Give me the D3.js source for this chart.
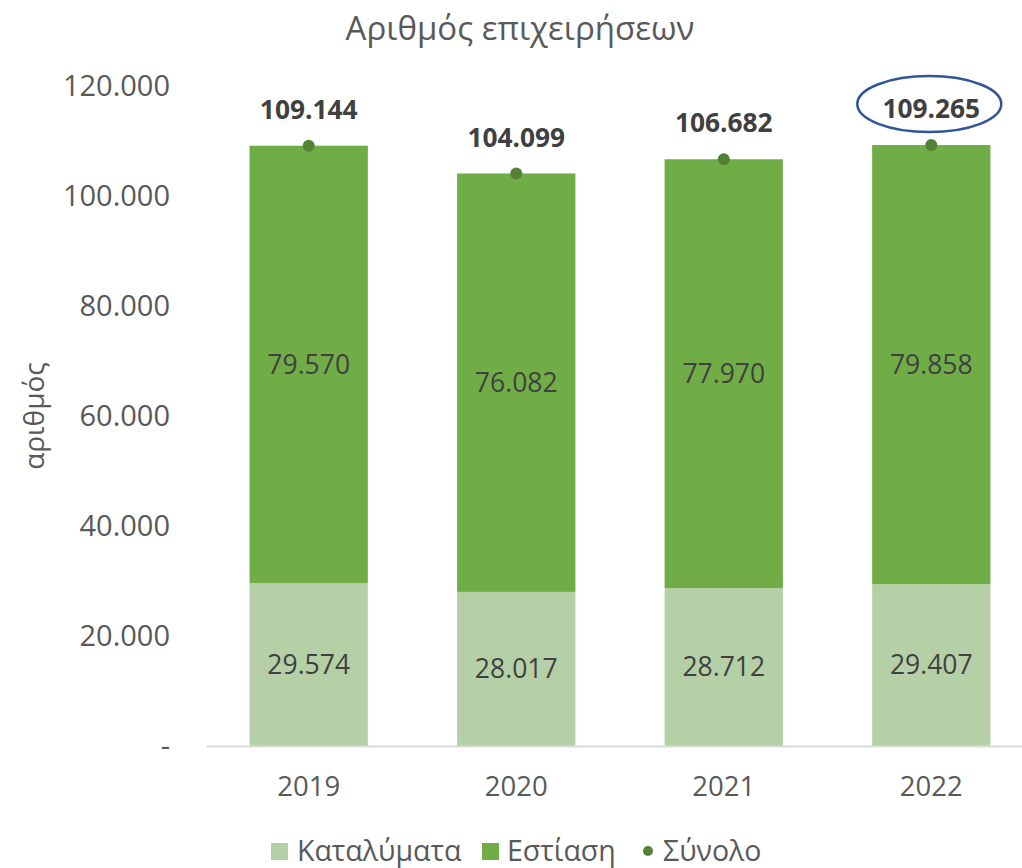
<!DOCTYPE html>
<html>
<head>
<meta charset="utf-8">
<script src="https://cdn.jsdelivr.net/npm/d3@7"></script>
<style>
    body { margin: 0; background: #fff; }
    text { font-family: "Open Sans", "Noto Sans", sans-serif; }
</style>
</head>
<body>
<div id="chart"></div>
<script>
const years = ["2019", "2020", "2021", "2022"];
const katalymata = [29574, 28017, 28712, 29407];
const estiasi = [79570, 76082, 77970, 79858];
const synolo = [109144, 104099, 106682, 109265];
const yTicks = [0, 20000, 40000, 60000, 80000, 100000, 120000];

const width = 1022, height = 868;
const margin = { top: 86, right: -12, bottom: 122, left: 206 };

const locale = d3.formatLocale({ decimal: ",", thousands: ".", grouping: [3], currency: ["", "€"] });
const fmt = locale.format(",d");

const svg = d3.select("#chart")
    .append("svg")
    .attr("width", width)
    .attr("height", height);

const x = d3.scaleBand()
    .domain(years)
    .range([margin.left, width - margin.right])
    .paddingInner(0.43)
    .paddingOuter(0.21);

const y = d3.scaleLinear()
    .domain([0, 120000])
    .range([height - margin.bottom, margin.top]);

// stacked data
const stackData = years.map((yr, i) => ({ year: yr, katalymata: katalymata[i], estiasi: estiasi[i] }));
const series = d3.stack().keys(["katalymata", "estiasi"])(stackData);
const colors = { katalymata: "#b5d0a7", estiasi: "#70ad47" };

// title
svg.append("text")
    .attr("x", 520)
    .attr("y", 40)
    .attr("text-anchor", "middle")
    .attr("font-size", 33)
    .attr("fill", "#595959")
    .text("Αριθμός επιχειρήσεων");

// y axis label
svg.append("text")
    .attr("transform", `translate(44,${(y(0) + y(120000)) / 2}) rotate(-90)`)
    .attr("text-anchor", "middle")
    .attr("font-size", 28)
    .attr("fill", "#595959")
    .text("αριθμός");

// y axis
const yAxis = svg.append("g")
    .attr("transform", `translate(170,0)`)
    .call(d3.axisLeft(y).tickValues(yTicks).tickSize(0).tickPadding(0)
        .tickFormat(d => d === 0 ? "-" : fmt(d)));
yAxis.select(".domain").remove();
yAxis.selectAll("text")
    .attr("font-family", "'Open Sans', sans-serif")
    .attr("font-size", 29)
    .attr("fill", "#595959");

// bars
svg.append("g").selectAll("g")
    .data(series)
    .enter()
    .append("g")
    .attr("fill", d => colors[d.key])
    .selectAll("rect")
    .data(d => d)
    .enter()
    .append("rect")
    .attr("x", d => x(d.data.year))
    .attr("y", d => y(d[1]))
    .attr("width", x.bandwidth())
    .attr("height", d => y(d[0]) - y(d[1]));

// segment labels
svg.append("g").selectAll("g")
    .data(series)
    .enter()
    .append("g")
    .selectAll("text")
    .data(d => d)
    .enter()
    .append("text")
    .attr("x", d => x(d.data.year) + x.bandwidth() / 2)
    .attr("y", d => (y(d[0]) + y(d[1])) / 2)
    .attr("dy", "0.35em")
    .attr("text-anchor", "middle")
    .attr("font-size", 26.5)
    .attr("fill", "#404040")
    .text(d => fmt(d[1] - d[0]));

// x axis
const xAxis = svg.append("g")
    .attr("transform", `translate(0,${y(0)})`)
    .call(d3.axisBottom(x).tickSize(0).tickPadding(30));
xAxis.select(".domain")
    .attr("stroke", "#d9d9d9")
    .attr("stroke-width", 2);
xAxis.selectAll("text")
    .attr("font-family", "'Open Sans', sans-serif")
    .attr("font-size", 27.5)
    .attr("fill", "#595959");

// total points
svg.append("g").selectAll("circle")
    .data(synolo)
    .enter()
    .append("circle")
    .attr("cx", (d, i) => x(years[i]) + x.bandwidth() / 2)
    .attr("cy", d => y(d))
    .attr("r", 6)
    .attr("fill", "#548235");

svg.append("g").selectAll("text")
    .data(synolo)
    .enter()
    .append("text")
    .attr("x", (d, i) => x(years[i]) + x.bandwidth() / 2)
    .attr("y", d => y(d) - 36)
    .attr("dy", "0.35em")
    .attr("text-anchor", "middle")
    .attr("font-size", 26.3)
    .attr("font-weight", "bold")
    .attr("fill", "#404040")
    .text(d => fmt(d));

// highlight ellipse on last total
const last = synolo.length - 1;
svg.append("ellipse")
    .attr("cx", x(years[last]) + x.bandwidth() / 2 - 2)
    .attr("cy", y(synolo[last]) - 41)
    .attr("rx", 72)
    .attr("ry", 28)
    .attr("fill", "none")
    .attr("stroke", "#2f5597")
    .attr("stroke-width", 2.5);

// legend
const legend = svg.append("g").attr("transform", "translate(0,851)");
const items = [
    { label: "Καταλύματα", color: colors.katalymata, type: "rect", x: 271, tx: 297 },
    { label: "Εστίαση", color: colors.estiasi, type: "rect", x: 482, tx: 507 },
    { label: "Σύνολο", color: "#548235", type: "circle", x: 648, tx: 663 }
];
items.forEach(it => {
    if (it.type === "rect") {
        legend.append("rect")
            .attr("x", it.x).attr("y", -8)
            .attr("width", 17).attr("height", 17)
            .attr("fill", it.color);
    } else {
        legend.append("circle")
            .attr("cx", it.x).attr("cy", 0)
            .attr("r", 5)
            .attr("fill", it.color);
    }
    legend.append("text")
        .attr("x", it.tx)
        .attr("y", 0)
        .attr("dy", "0.35em")
        .attr("font-size", 28.5)
        .attr("fill", "#595959")
        .text(it.label);
});
</script>
</body>
</html>
